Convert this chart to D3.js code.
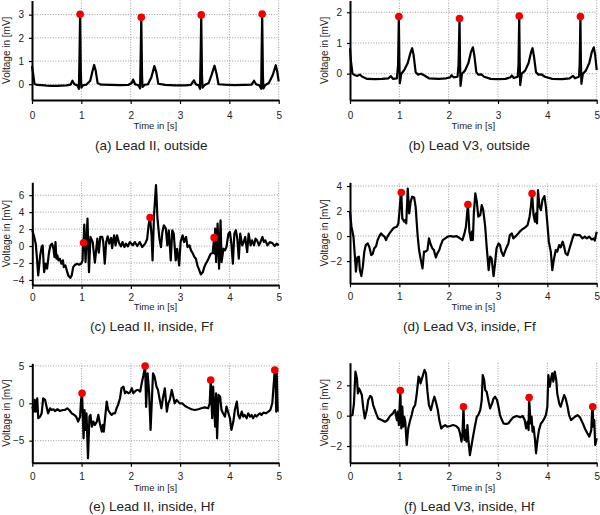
<!DOCTYPE html>
<html><head><meta charset="utf-8">
<script src="https://cdn.jsdelivr.net/npm/d3@7/dist/d3.min.js"></script>
<style>
body{margin:0;background:#fff}
svg{display:block}
text{font-family:"Liberation Sans",Arial,Helvetica,sans-serif;fill:#222}
</style>
</head><body>
<svg id="chart" width="600" height="515"></svg>
<script>
// ---------------- DATA ----------------
const xTicks = [0, 1, 2, 3, 4, 5];
const yTicksA = [0, 1, 2, 3];
const yTicksB = [0, 1, 2];
const yTicksC = [-4, -2, 0, 2, 4, 6];
const yTicksD = [-2, 0, 2, 4];
const yTicksE = [-5, 0, 5];
const yTicksF = [-2, 0, 2];

const captions = ["(a) Lead II, outside", "(b) Lead V3, outside", "(c) Lead II, inside, Ff",
                  "(d) Lead V3, inside, Ff", "(e) Lead II, inside, Hf", "(f) Lead V3, inside, Hf"];
const xTitle = "Time in [s]";
const yTitle = "Voltage in [mV]";

// axis limits [min, max] of voltage per panel
const yLimA = [-0.68, 3.61];
const yLimB = [-0.857, 2.384];
const yLimC = [-4.60, 7.52];
const yLimD = [-3.78, 4.30];
const yLimE = [-7.95, 5.35];
const yLimF = [-3.10, 3.49];
const xLim = [0, 5];

// signals: [time s, voltage mV]
const sigA = [[0,0.78],[0.02,0.5],[0.05,0.02],[0.1,-0.03],[0.2,-0.04],[0.3,-0.06],[0.4,-0.07],[0.5,-0.07],[0.6,-0.06],[0.7,-0.05],[0.78,-0.02],[0.82,0.15],[0.86,0.0],[0.92,-0.05],[0.95,-0.2],[0.965,1.5],[0.975,3.02],[0.99,0.5],[1.0,-0.15],[1.03,-0.05],[1.1,-0.02],[1.18,0.15],[1.23,0.6],[1.26,0.83],[1.29,0.6],[1.33,0.05],[1.4,-0.02],[1.6,-0.03],[1.8,-0.04],[1.95,-0.03],[2.02,0.05],[2.05,0.2],[2.09,0.0],[2.16,-0.05],[2.19,-0.18],[2.205,1.5],[2.215,2.89],[2.23,0.4],[2.24,-0.12],[2.28,-0.03],[2.35,0.0],[2.42,0.3],[2.48,0.78],[2.52,0.5],[2.56,0.02],[2.7,-0.03],[2.9,-0.05],[3.1,-0.05],[3.22,-0.03],[3.28,0.17],[3.32,0.0],[3.38,-0.05],[3.405,-0.2],[3.42,1.5],[3.43,2.99],[3.445,0.4],[3.455,-0.15],[3.5,-0.03],[3.58,0.05],[3.64,0.4],[3.70,0.8],[3.74,0.45],[3.78,0.0],[3.9,-0.02],[4.1,-0.04],[4.3,-0.03],[4.45,-0.02],[4.5,0.15],[4.54,0.0],[4.61,-0.05],[4.645,-0.2],[4.655,1.5],[4.665,3.03],[4.68,0.4],[4.69,-0.18],[4.73,-0.03],[4.8,0.05],[4.88,0.4],[4.94,0.82],[4.97,0.55],[5.0,0.12]];
const peaksA = [[0.975,3.02],[2.215,2.89],[3.43,2.99],[4.665,3.03]];

const sigB = [[0,0.83],[0.02,0.4],[0.05,0.0],[0.1,-0.05],[0.15,-0.07],[0.2,-0.03],[0.25,-0.1],[0.35,-0.17],[0.5,-0.18],[0.65,-0.17],[0.78,-0.15],[0.83,-0.08],[0.87,-0.17],[0.95,-0.15],[0.975,0.3],[0.99,1.86],[1.0,0.5],[1.01,-0.31],[1.04,0.0],[1.1,0.12],[1.17,0.35],[1.22,0.65],[1.26,0.83],[1.29,0.6],[1.33,0.05],[1.38,-0.03],[1.44,0.0],[1.5,-0.05],[1.6,-0.15],[1.8,-0.17],[1.95,-0.15],[2.03,-0.12],[2.06,-0.05],[2.1,-0.12],[2.18,-0.1],[2.2,0.3],[2.22,1.80],[2.23,0.4],[2.24,-0.4],[2.27,0.0],[2.33,0.1],[2.4,0.35],[2.45,0.7],[2.49,0.86],[2.52,0.6],[2.56,0.05],[2.6,-0.03],[2.66,-0.02],[2.72,-0.1],[2.85,-0.17],[3.0,-0.18],[3.15,-0.17],[3.25,-0.12],[3.28,-0.06],[3.32,-0.14],[3.40,-0.1],[3.415,0.3],[3.43,1.88],[3.44,0.4],[3.45,-0.37],[3.48,0.0],[3.55,0.1],[3.62,0.35],[3.67,0.7],[3.70,0.83],[3.73,0.55],[3.77,0.05],[3.82,-0.03],[3.88,-0.02],[3.95,-0.1],[4.1,-0.17],[4.3,-0.18],[4.45,-0.15],[4.52,-0.07],[4.56,-0.15],[4.64,-0.1],[4.655,0.3],[4.67,1.86],[4.68,0.4],[4.69,-0.33],[4.72,0.0],[4.78,0.1],[4.85,0.35],[4.9,0.7],[4.94,0.86],[4.97,0.6],[5.0,0.12]];
const peaksB = [[0.99,1.86],[2.22,1.80],[3.43,1.88],[4.67,1.86]];

const sigC = [[0,1.86],[0.03,1.27],[0.07,0.28],[0.09,-1.1],[0.12,-3.47],[0.16,-1.1],[0.19,-0.12],[0.21,0.08],[0.24,-3.08],[0.27,-2.09],[0.30,-2.68],[0.34,-0.71],[0.37,0.08],[0.40,0.28],[0.43,-0.32],[0.45,-1.3],[0.47,0.47],[0.49,-1.5],[0.51,-1.1],[0.53,-1.69],[0.56,-1.5],[0.59,-2.09],[0.62,-1.69],[0.64,-2.49],[0.67,-2.28],[0.70,-2.87],[0.73,-3.47],[0.77,-3.75],[0.80,-3.47],[0.83,-2.49],[0.87,-2.2],[0.91,-2.09],[0.95,-2.2],[0.99,-2.09],[1.02,-1.69],[1.03,0.28],[1.04,0.39],[1.055,2.53],[1.08,-1.89],[1.12,3.24],[1.15,-3.08],[1.18,1.07],[1.225,0.47],[1.27,-1.97],[1.32,0.87],[1.35,-0.79],[1.38,1.07],[1.42,1.07],[1.44,0.47],[1.47,-2.09],[1.50,0.47],[1.53,1.15],[1.56,0.28],[1.60,0.95],[1.62,-0.24],[1.66,1.27],[1.69,0.08],[1.72,1.27],[1.76,0.36],[1.80,-0.04],[1.83,0.47],[1.87,-0.12],[1.90,0.28],[1.94,-0.04],[1.98,0.47],[2.04,0.08],[2.08,0.47],[2.13,0.0],[2.18,0.47],[2.23,-0.12],[2.29,0.28],[2.33,0.79],[2.36,2.45],[2.39,3.36],[2.42,1.27],[2.44,-1.69],[2.47,3.63],[2.51,7.2],[2.54,3.24],[2.58,0.87],[2.61,-0.12],[2.64,1.66],[2.67,2.45],[2.71,2.05],[2.74,0.08],[2.77,1.86],[2.81,-1.69],[2.84,1.86],[2.87,1.46],[2.91,-1.69],[2.94,-0.32],[2.98,-2.28],[3.01,0.47],[3.05,1.27],[3.08,0.47],[3.12,1.07],[3.15,-0.12],[3.19,0.08],[3.22,-0.51],[3.25,-0.79],[3.29,-1.30],[3.32,-1.5],[3.35,-2.28],[3.39,-2.87],[3.42,-3.35],[3.46,-3.08],[3.49,-2.49],[3.52,-2.09],[3.56,-1.69],[3.59,-1.30],[3.62,-0.91],[3.66,-0.83],[3.69,0.99],[3.70,-0.91],[3.71,2.05],[3.73,-1.89],[3.76,2.64],[3.79,-2.68],[3.82,3.04],[3.84,-1.89],[3.88,-0.32],[3.91,-0.51],[3.94,-0.12],[3.98,1.46],[4.01,1.66],[4.04,0.28],[4.07,-2.09],[4.10,1.46],[4.13,1.86],[4.16,0.87],[4.19,-1.5],[4.22,1.46],[4.26,0.08],[4.29,0.47],[4.32,1.07],[4.36,-0.71],[4.39,1.46],[4.43,0.08],[4.46,0.67],[4.50,0.08],[4.53,0.87],[4.56,0.67],[4.60,0.08],[4.63,0.47],[4.67,1.07],[4.70,0.47],[4.73,0.67],[4.77,0.08],[4.82,0.47],[4.87,0.36],[4.92,0.0],[4.96,0.28],[5.0,0.08]];
const peaksC = [[1.04,0.39],[2.39,3.36],[3.69,0.99]];

const sigD = [[0,1.95],[0.03,0.75],[0.07,-0.05],[0.10,-1.65],[0.12,-2.85],[0.15,-1.71],[0.18,-1.65],[0.20,-2.72],[0.23,-3.2],[0.26,-2.45],[0.29,-1.25],[0.32,-0.72],[0.36,-0.59],[0.39,-0.85],[0.43,-1.52],[0.46,-1.44],[0.49,-0.99],[0.53,-0.8],[0.56,-0.32],[0.59,-0.05],[0.63,0.21],[0.66,0.08],[0.70,-0.05],[0.73,-0.32],[0.76,-0.05],[0.80,0.21],[0.85,0.48],[0.89,0.67],[0.95,0.75],[0.98,1.01],[1.0,1.81],[1.03,3.41],[1.04,3.49],[1.06,1.41],[1.10,1.15],[1.12,1.28],[1.14,1.01],[1.17,3.79],[1.20,1.81],[1.23,2.75],[1.26,3.15],[1.30,3.09],[1.33,2.35],[1.37,0.08],[1.40,-1.12],[1.43,-1.79],[1.47,-2.59],[1.50,-1.25],[1.53,-1.25],[1.57,-1.12],[1.60,-0.19],[1.64,-0.72],[1.67,-0.99],[1.70,-1.12],[1.74,-1.71],[1.77,-1.39],[1.81,-1.12],[1.84,-0.72],[1.88,-0.32],[1.93,-0.19],[1.98,-0.05],[2.03,0.0],[2.10,-0.05],[2.16,0.0],[2.23,-0.19],[2.28,-0.32],[2.32,0.21],[2.35,0.75],[2.39,2.53],[2.42,0.35],[2.45,-0.32],[2.47,0.35],[2.49,-0.32],[2.51,1.81],[2.54,3.41],[2.57,2.75],[2.60,1.55],[2.64,1.68],[2.67,2.48],[2.70,2.08],[2.74,0.75],[2.77,-0.85],[2.81,-2.72],[2.84,-1.65],[2.87,-1.79],[2.91,-3.2],[2.94,-2.19],[2.97,-0.99],[3.01,-0.59],[3.04,-0.72],[3.07,-1.25],[3.11,-1.59],[3.14,-1.25],[3.18,-0.85],[3.21,-0.59],[3.24,0.08],[3.28,0.21],[3.31,-0.19],[3.35,-0.05],[3.38,0.08],[3.41,0.21],[3.45,0.4],[3.49,0.53],[3.55,0.69],[3.60,0.88],[3.64,1.55],[3.67,2.48],[3.69,3.41],[3.72,1.68],[3.75,1.15],[3.77,1.81],[3.79,1.01],[3.81,3.68],[3.84,2.35],[3.87,2.08],[3.90,2.88],[3.94,3.2],[3.97,2.35],[4.00,1.01],[4.03,-0.45],[4.07,-1.25],[4.10,-2.72],[4.13,-1.92],[4.17,-1.12],[4.20,-1.25],[4.24,-0.72],[4.27,-0.91],[4.31,-0.45],[4.34,-0.85],[4.37,-1.39],[4.41,-1.52],[4.44,-1.12],[4.48,-0.59],[4.51,-0.19],[4.54,0.13],[4.60,0.08],[4.66,0.08],[4.71,-0.19],[4.76,-0.05],[4.80,-0.19],[4.85,-0.05],[4.90,-0.27],[4.94,-0.19],[4.96,-0.37],[5.0,0.35]];
const peaksD = [[1.04,3.49],[2.39,2.53],[3.69,3.41]];

const sigE = [[0,-0.45],[0.03,-1.12],[0.05,0.45],[0.07,-1.12],[0.10,0.67],[0.12,-2.0],[0.16,-1.78],[0.19,-1.34],[0.22,0.67],[0.26,0.45],[0.29,-0.45],[0.32,-1.34],[0.36,-0.67],[0.39,-0.9],[0.43,-0.8],[0.46,-1.03],[0.51,-0.8],[0.56,-1.03],[0.62,-0.9],[0.66,-0.9],[0.71,-0.67],[0.75,-0.9],[0.80,-1.34],[0.85,-1.56],[0.89,-1.78],[0.93,-2.45],[0.97,-1.78],[0.99,0.45],[1.01,1.34],[1.04,-4.69],[1.06,-0.9],[1.08,-3.57],[1.10,-1.34],[1.13,-7.36],[1.16,-1.78],[1.18,-1.56],[1.21,-3.12],[1.24,-2.45],[1.27,-2.9],[1.31,-2.45],[1.34,-1.56],[1.37,-2.68],[1.41,-3.79],[1.43,-2.9],[1.45,-3.79],[1.48,-1.78],[1.51,0.22],[1.54,-0.9],[1.58,-1.34],[1.61,-1.56],[1.64,-1.34],[1.68,-1.34],[1.71,-0.67],[1.74,-0.22],[1.78,0.67],[1.81,2.01],[1.85,2.23],[1.88,1.34],[1.91,1.56],[1.95,1.34],[1.98,1.43],[2.02,2.01],[2.05,1.34],[2.08,1.56],[2.12,1.78],[2.15,1.78],[2.19,1.56],[2.22,2.68],[2.25,3.57],[2.29,4.99],[2.31,-0.5],[2.34,4.0],[2.37,1.5],[2.40,-3.57],[2.45,4.01],[2.48,3.6],[2.52,2.23],[2.55,1.8],[2.58,0.67],[2.62,-0.67],[2.65,0.67],[2.69,2.01],[2.73,-1.12],[2.76,0.0],[2.79,0.45],[2.83,1.78],[2.86,0.89],[2.89,0.0],[2.93,0.45],[2.96,0.22],[2.99,0.0],[3.04,0.0],[3.10,-0.36],[3.16,-0.58],[3.23,-0.8],[3.30,-0.9],[3.37,-0.8],[3.43,-0.67],[3.50,-0.54],[3.57,-0.67],[3.60,0.0],[3.62,3.12],[3.65,-2.0],[3.67,2.23],[3.71,-3.12],[3.73,1.34],[3.75,-4.69],[3.78,1.12],[3.81,0.89],[3.84,-0.9],[3.87,-1.34],[3.91,-1.78],[3.94,-0.45],[3.98,-1.34],[4.01,-2.0],[4.04,-3.57],[4.08,-2.45],[4.11,-0.9],[4.15,0.22],[4.18,-1.56],[4.21,-2.0],[4.25,-1.12],[4.28,-1.78],[4.31,-1.56],[4.35,-2.0],[4.38,-1.34],[4.42,-1.78],[4.45,-1.56],[4.48,-2.0],[4.52,-1.56],[4.55,-1.78],[4.58,-1.56],[4.62,-1.34],[4.65,-1.56],[4.69,-1.25],[4.74,-1.34],[4.79,-1.12],[4.83,-0.9],[4.87,0.0],[4.89,1.78],[4.92,4.46],[4.94,2.23],[4.95,-1.12],[4.96,4.01],[4.98,-1.12]];
const peaksE = [[1.01,1.34],[2.29,4.99],[3.62,3.12],[4.92,4.46]];

const sigF = [[0,-0.02],[0.05,0.04],[0.08,0.81],[0.11,2.9],[0.14,2.46],[0.16,1.47],[0.18,1.8],[0.20,1.69],[0.24,1.36],[0.27,0.48],[0.30,-0.18],[0.34,0.37],[0.37,1.03],[0.41,1.3],[0.44,1.21],[0.47,0.7],[0.53,0.15],[0.57,-0.18],[0.64,-0.29],[0.71,-0.4],[0.76,-0.29],[0.81,-0.02],[0.87,0.15],[0.91,0.37],[0.95,-0.29],[0.97,0.26],[0.99,-0.62],[1.02,1.65],[1.04,-0.84],[1.06,0.59],[1.08,-0.73],[1.10,-0.07],[1.12,-0.4],[1.15,-1.93],[1.18,-0.84],[1.22,-0.29],[1.25,0.04],[1.28,0.48],[1.32,0.7],[1.35,1.36],[1.39,2.57],[1.41,2.46],[1.43,2.13],[1.47,2.57],[1.51,3.01],[1.54,2.79],[1.57,1.58],[1.60,0.7],[1.64,0.37],[1.68,0.92],[1.71,1.25],[1.74,0.92],[1.78,0.37],[1.81,-0.29],[1.85,-0.84],[1.88,-0.73],[1.93,-0.62],[1.97,-0.73],[2.03,-0.68],[2.09,-0.62],[2.15,-0.68],[2.20,-0.84],[2.23,-1.16],[2.26,-1.71],[2.28,-1.16],[2.30,0.59],[2.32,-1.6],[2.34,-0.95],[2.36,-1.71],[2.38,-0.62],[2.40,-1.6],[2.43,-2.6],[2.47,-1.82],[2.50,-1.27],[2.53,-0.73],[2.57,-0.07],[2.60,0.04],[2.64,0.37],[2.67,1.03],[2.69,2.68],[2.72,2.35],[2.74,1.69],[2.77,1.58],[2.81,0.92],[2.84,0.48],[2.88,0.81],[2.91,1.14],[2.94,1.25],[2.98,1.03],[3.01,0.59],[3.04,0.04],[3.08,-0.29],[3.11,-0.51],[3.16,-0.55],[3.21,-0.51],[3.26,-0.29],[3.31,-0.11],[3.38,-0.02],[3.45,-0.11],[3.50,-0.02],[3.54,-0.29],[3.57,-0.84],[3.60,-0.4],[3.62,-0.95],[3.63,1.19],[3.66,-0.51],[3.68,-0.07],[3.70,-1.05],[3.72,-0.73],[3.75,-1.6],[3.77,-2.48],[3.80,-1.6],[3.83,-0.95],[3.87,-0.51],[3.90,-0.4],[3.94,-0.18],[3.97,0.04],[4.00,0.59],[4.02,2.68],[4.05,1.91],[4.07,2.35],[4.10,2.79],[4.12,2.24],[4.15,2.9],[4.18,2.35],[4.20,1.47],[4.24,0.81],[4.27,0.59],[4.31,1.03],[4.34,1.36],[4.37,1.14],[4.41,0.59],[4.44,0.04],[4.48,-0.29],[4.52,-0.18],[4.56,-0.07],[4.61,0.04],[4.66,-0.11],[4.72,-0.51],[4.76,-0.84],[4.81,-1.16],[4.85,-1.38],[4.89,-0.95],[4.91,0.59],[4.92,0.59],[4.93,-0.73],[4.95,-0.29],[4.97,-1.93],[5.0,-1.49]];
const peaksF = [[1.02,1.65],[2.30,0.59],[3.63,1.19],[4.92,0.59]];

// ---------------- LAYOUT ----------------
const panels = [
  {sig: sigA, peaks: peaksA, ticks: yTicksA, ylim: yLimA, cap: captions[0], x: [32, 278.7],  y: [100, 0.5],   row: 0},
  {sig: sigB, peaks: peaksB, ticks: yTicksB, ylim: yLimB, cap: captions[1], x: [350, 596.7], y: [100, 0.5],   row: 0},
  {sig: sigC, peaks: peaksC, ticks: yTicksC, ylim: yLimC, cap: captions[2], x: [32.3, 278.7], y: [285, 182.3], row: 1},
  {sig: sigD, peaks: peaksD, ticks: yTicksD, ylim: yLimD, cap: captions[3], x: [350, 596.7], y: [283.3, 182.3], row: 1},
  {sig: sigE, peaks: peaksE, ticks: yTicksE, ylim: yLimE, cap: captions[4], x: [32.3, 278.7], y: [462.7, 363.3], row: 2},
  {sig: sigF, peaks: peaksF, ticks: yTicksF, ylim: yLimF, cap: captions[5], x: [350, 596.7], y: [462.7, 362.7], row: 2}
];
const rowText = [
  {tick: 118.5, title: 129, cap: 150},
  {tick: 300.5, title: 309.5, cap: 331},
  {tick: 480,   title: 491, cap: 511}
];
const FONT = "'Liberation Sans',Arial,Helvetica,sans-serif";

const svg = d3.select("#chart");

panels.forEach(p => {
  const xs = d3.scaleLinear().domain(xLim).range(p.x);
  const ys = d3.scaleLinear().domain(p.ylim).range(p.y);
  const g = svg.append("g");
  const left = p.x[0], right = p.x[1], bottom = p.y[0], top = p.y[1];
  const rt = rowText[p.row];

  // grid
  g.append("g").selectAll("line").data(p.ticks).join("line")
    .attr("x1", left).attr("x2", right)
    .attr("y1", d => ys(d)).attr("y2", d => ys(d))
    .attr("stroke", "#9a9a9a").attr("stroke-width", 1).attr("stroke-dasharray", "1,1.6");
  g.append("g").selectAll("line").data(xTicks.filter(d => d > 0)).join("line")
    .attr("x1", d => xs(d)).attr("x2", d => xs(d))
    .attr("y1", bottom).attr("y2", top)
    .attr("stroke", "#9a9a9a").attr("stroke-width", 1).attr("stroke-dasharray", "1,1.6");

  // signal
  const line = d3.line().x(d => xs(d[0])).y(d => ys(d[1]));
  g.append("path").datum(p.sig).attr("d", line)
    .attr("fill", "none").attr("stroke", "#000").attr("stroke-width", 2.2)
    .attr("stroke-linejoin", "round");

  // peaks
  g.append("g").selectAll("circle").data(p.peaks).join("circle")
    .attr("cx", d => xs(d[0])).attr("cy", d => ys(d[1])).attr("r", 3.8)
    .attr("fill", "#f20000");

  // x axis
  const xa = g.append("g").attr("transform", `translate(0,${bottom})`)
    .call(d3.axisBottom(xs).tickValues(xTicks).tickSize(4).tickSizeOuter(0).tickFormat(d3.format("d")));
  xa.select(".domain").attr("stroke", "#000").attr("stroke-width", 2);
  xa.selectAll(".tick line").attr("stroke", "#000").attr("stroke-width", 1.2);
  xa.selectAll(".tick text").attr("y", rt.tick - bottom).attr("dy", 0)
    .style("font-size", "10px").attr("fill", "#222").style("font-family", FONT);

  // y axis
  const ya = g.append("g").attr("transform", `translate(${left},0)`)
    .call(d3.axisLeft(ys).tickValues(p.ticks).tickSize(3).tickSizeOuter(0).tickPadding(5).tickFormat(d3.format("d")));
  ya.select(".domain").attr("stroke", "#000").attr("stroke-width", 2);
  ya.selectAll(".tick line").attr("stroke", "#000").attr("stroke-width", 1.2);
  ya.selectAll(".tick text").style("font-size", "10px").attr("fill", "#222").style("font-family", FONT);

  // titles
  g.append("text").attr("x", (left + right) / 2).attr("y", rt.title)
    .attr("text-anchor", "middle").attr("fill", "#222").style("font-size", "9.5px").text(xTitle);
  g.append("text")
    .attr("transform", `translate(${left - 22},${(top + bottom) / 2}) rotate(-90)`)
    .attr("text-anchor", "middle").attr("fill", "#222").style("font-size", "10px").text(yTitle);
  g.append("text").attr("x", (left + right) / 2 - 4).attr("y", rt.cap)
    .attr("text-anchor", "middle").attr("fill", "#111").style("font-size", "13.5px").text(p.cap);
});
</script>
</body></html>
